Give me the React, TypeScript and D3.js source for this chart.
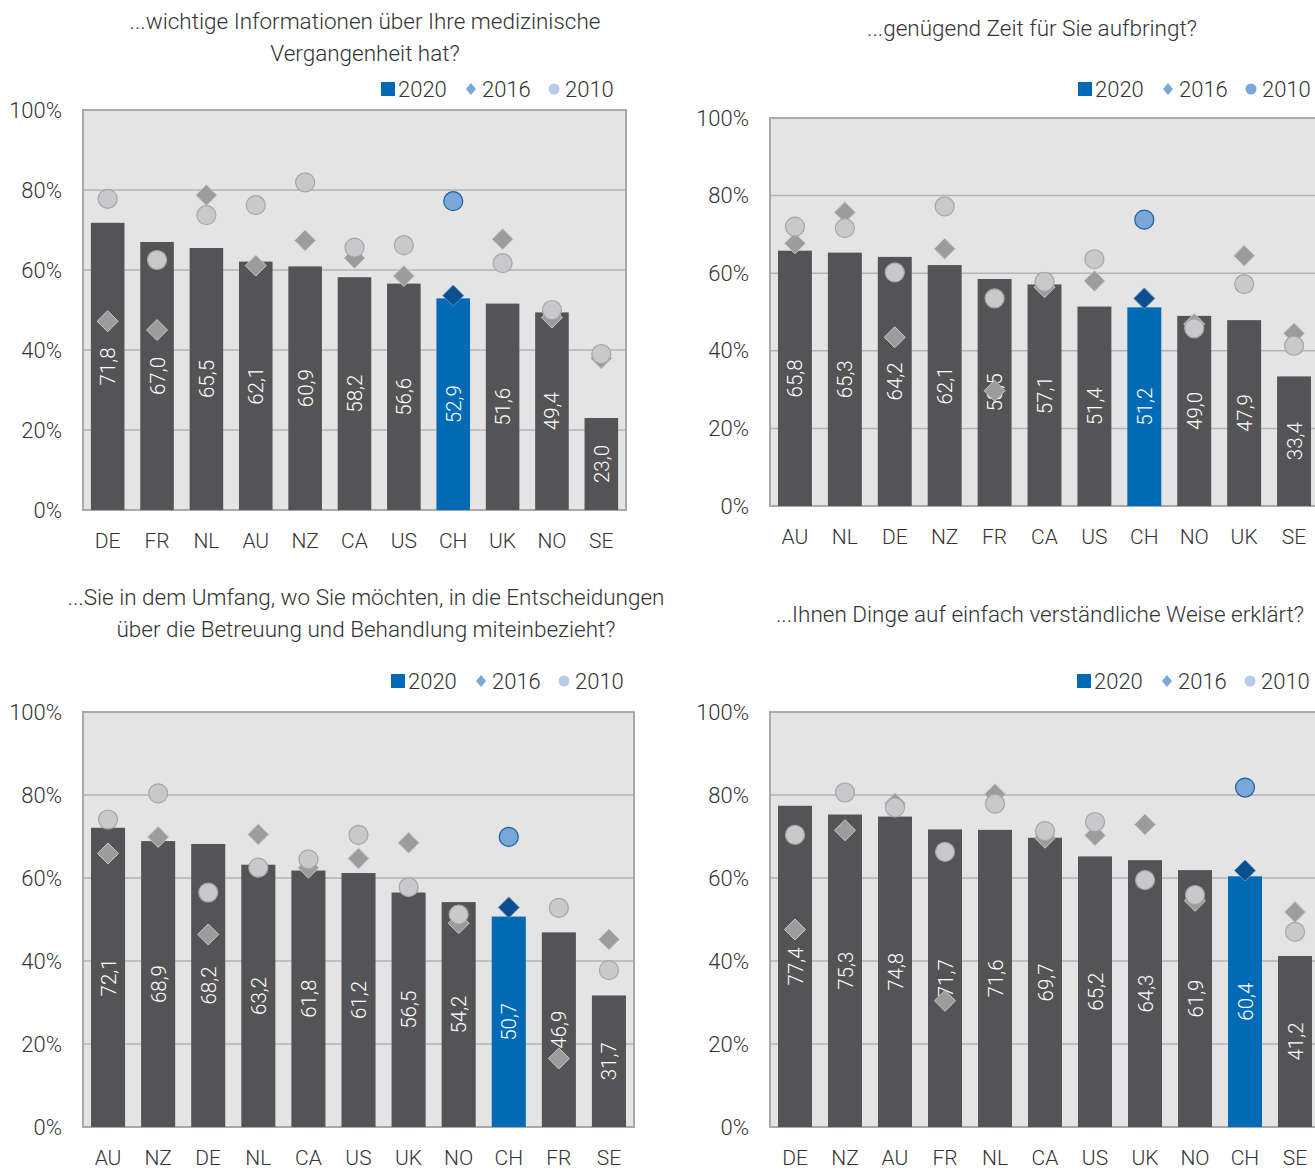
import * as d3 from "d3";

// Panel 1: ...wichtige Informationen über Ihre medizinische Vergangenheit hat?
const cats1 = ["DE", "FR", "NL", "AU", "NZ", "CA", "US", "CH", "UK", "NO", "SE"];
const y2020_1 = [71.8, 67.0, 65.5, 62.1, 60.9, 58.2, 56.6, 52.9, 51.6, 49.4, 23.0];
const y2016_1 = [47.2, 45.0, 78.7, 61.1, 67.4, 63.0, 58.5, 53.6, 67.7, 48.1, 37.9];
const y2010_1 = [77.8, 62.5, 73.7, 76.2, 81.9, 65.6, 66.2, 77.2, 61.7, 50.0, 39.0];

// Panel 2: ...genügend Zeit für Sie aufbringt?
const cats2 = ["AU", "NL", "DE", "NZ", "FR", "CA", "US", "CH", "NO", "UK", "SE"];
const y2020_2 = [65.8, 65.3, 64.2, 62.1, 58.5, 57.1, 51.4, 51.2, 49.0, 47.9, 33.4];
const y2016_2 = [67.7, 75.7, 43.5, 66.3, 29.7, 56.4, 58.0, 53.5, 46.9, 64.5, 44.5];
const y2010_2 = [72.0, 71.6, 60.2, 77.2, 53.5, 57.8, 63.6, 73.8, 45.8, 57.2, 41.3];

// Panel 3: ...in die Entscheidungen miteinbezieht?
const cats3 = ["AU", "NZ", "DE", "NL", "CA", "US", "UK", "NO", "CH", "FR", "SE"];
const y2020_3 = [72.1, 68.9, 68.2, 63.2, 61.8, 61.2, 56.5, 54.2, 50.7, 46.9, 31.7];
const y2016_3 = [65.9, 69.9, 46.4, 70.5, 62.5, 64.7, 68.5, 49.1, 52.9, 16.5, 45.2];
const y2010_3 = [74.1, 80.4, 56.5, 62.5, 64.5, 70.4, 57.8, 51.2, 69.9, 52.8, 37.8];

// Panel 4: ...Ihnen Dinge auf einfach verständliche Weise erklärt?
const cats4 = ["DE", "NZ", "AU", "FR", "NL", "CA", "US", "UK", "NO", "CH", "SE"];
const y2020_4 = [77.4, 75.3, 74.8, 71.7, 71.6, 69.7, 65.2, 64.3, 61.9, 60.4, 41.2];
const y2016_4 = [47.6, 71.5, 78.0, 30.4, 80.2, 69.7, 70.3, 72.9, 54.5, 61.8, 51.8];
const y2010_4 = [70.4, 80.6, 77.0, 66.3, 77.9, 71.3, 73.5, 59.5, 55.9, 81.8, 47.0];

const yTicks = [0, 20, 40, 60, 80, 100];
const legendYears = ["2020", "2016", "2010"];

const FONT = "Roboto, 'Noto Sans', sans-serif";
const BAR = "#545456";
const BAR_CH = "#006ab4";
const TEXT = "#333333";

type PanelProps = {
  title: string[];
  titleX: number;
  titleY: number;
  cats: string[];
  v2020: number[];
  v2016: number[];
  v2010: number[];
  left: number;
  right: number;
  top: number;
  bottom: number;
  legendX: number;
  legendY: number;
  legendCircle: string;
};

function Panel(p: PanelProps) {
  const x = d3.scaleBand<string>().domain(p.cats).range([p.left, p.right]).paddingInner(0.32).paddingOuter(0.16);
  const y = d3.scaleLinear().domain([0, 100]).range([p.bottom, p.top]);
  const fmt = (v: number) => v.toFixed(1).replace(".", ",");
  const cx = (c: string) => (x(c) as number) + x.bandwidth() / 2;
  const diamond = "M0,-10.5L10.5,0L0,10.5L-10.5,0Z";
  return (
    <g>
      {p.title.map((t, i) => (
        <text key={t} x={p.titleX} y={p.titleY + i * 32} textAnchor="middle" fontSize={22.5} fill={TEXT} fontWeight={300}>
          {t}
        </text>
      ))}
      {/* legend */}
      <g transform={`translate(${p.legendX},${p.legendY})`} fontSize={22} fill={TEXT} fontWeight={300}>
        <rect x={0} y={-7} width={14} height={14} fill={BAR_CH} />
        <text x={17} y={8}>{legendYears[0]}</text>
        <path d="M0,-6L5,0L0,6L-5,0Z" transform="translate(90,0)" fill="#7aa7da" />
        <text x={101} y={8}>{legendYears[1]}</text>
        <circle cx={173} cy={0} r={5.5} fill={p.legendCircle} />
        <text x={184} y={8}>{legendYears[2]}</text>
      </g>
      <rect x={p.left} y={p.top} width={p.right - p.left} height={p.bottom - p.top} fill="#e4e4e4" />
      {yTicks.slice(1, -1).map((t) => (
        <line key={t} x1={p.left} x2={p.right} y1={y(t)} y2={y(t)} stroke="#b3b3b3" strokeWidth={1.5} />
      ))}
      <rect x={p.left} y={p.top} width={p.right - p.left} height={p.bottom - p.top} fill="none" stroke="#a9a9a9" strokeWidth={2} />
      {yTicks.map((t) => (
        <text key={t} x={p.left - 21} y={y(t) + 7.5} textAnchor="end" fontSize={22} fill={TEXT} fontWeight={300}>
          {t}%
        </text>
      ))}
      {p.cats.map((c, i) => (
        <rect key={c} x={x(c)} y={y(p.v2020[i])} width={x.bandwidth()} height={p.bottom - y(p.v2020[i])} fill={c === "CH" ? BAR_CH : BAR} />
      ))}
      {p.cats.map((c, i) => (
        <text
          key={c}
          transform={`translate(${cx(c) + 7.5},${(y(p.v2020[i]) + p.bottom) / 2}) rotate(-90)`}
          textAnchor="middle"
          fontSize={20.5}
          fill="#ffffff"
          fontWeight={300}
        >
          {fmt(p.v2020[i])}
        </text>
      ))}
      {p.cats.map((c, i) => (
        <path
          key={c}
          d={diamond}
          transform={`translate(${cx(c)},${y(p.v2016[i])})`}
          fill={c === "CH" ? "#0b4f8e" : "#9c9c9c"}
          stroke={c === "CH" ? "#5f8fc4" : "#c9c9c9"}
          strokeWidth={1}
        />
      ))}
      {p.cats.map((c, i) => (
        <circle
          key={c}
          cx={cx(c)}
          cy={y(p.v2010[i])}
          r={9.5}
          fill={c === "CH" ? "#7aa7da" : "#c9c9cb"}
          stroke={c === "CH" ? "#1b5f9e" : "#a6a6a6"}
          strokeWidth={1.2}
        />
      ))}
      {p.cats.map((c) => (
        <text key={c} x={cx(c)} y={p.bottom + 38} textAnchor="middle" fontSize={21} fill={TEXT} fontWeight={300}>
          {c}
        </text>
      ))}
    </g>
  );
}

export default function App() {
  return (
    <div style={{ position: "absolute", left: 0, top: 0 }}>
      <svg width={1315} height={1170} style={{ display: "block", fontFamily: FONT }}>
        <rect width={1315} height={1170} fill="#ffffff" />
        <Panel
          title={["...wichtige Informationen über Ihre medizinische", "Vergangenheit hat?"]}
          titleX={365}
          titleY={29}
          cats={cats1}
          v2020={y2020_1}
          v2016={y2016_1}
          v2010={y2010_1}
          left={83}
          right={626}
          top={110}
          bottom={510}
          legendX={381}
          legendY={89}
          legendCircle="#b6cdea"
        />
        <Panel
          title={["...genügend Zeit für Sie aufbringt?"]}
          titleX={1032}
          titleY={36}
          cats={cats2}
          v2020={y2020_2}
          v2016={y2016_2}
          v2010={y2010_2}
          left={770}
          right={1319}
          top={118}
          bottom={506}
          legendX={1078}
          legendY={89}
          legendCircle="#7aa7da"
        />
        <Panel
          title={["...Sie in dem Umfang, wo Sie möchten, in die Entscheidungen", "über die Betreuung und Behandlung miteinbezieht?"]}
          titleX={366}
          titleY={605}
          cats={cats3}
          v2020={y2020_3}
          v2016={y2016_3}
          v2010={y2010_3}
          left={83}
          right={634}
          top={712}
          bottom={1127}
          legendX={391}
          legendY={681}
          legendCircle="#b6cdea"
        />
        <Panel
          title={["...Ihnen Dinge auf einfach verständliche Weise erklärt?"]}
          titleX={1040}
          titleY={622}
          cats={cats4}
          v2020={y2020_4}
          v2016={y2016_4}
          v2010={y2010_4}
          left={770}
          right={1320}
          top={712}
          bottom={1127}
          legendX={1077}
          legendY={681}
          legendCircle="#b6cdea"
        />
      </svg>
    </div>
  );
}
